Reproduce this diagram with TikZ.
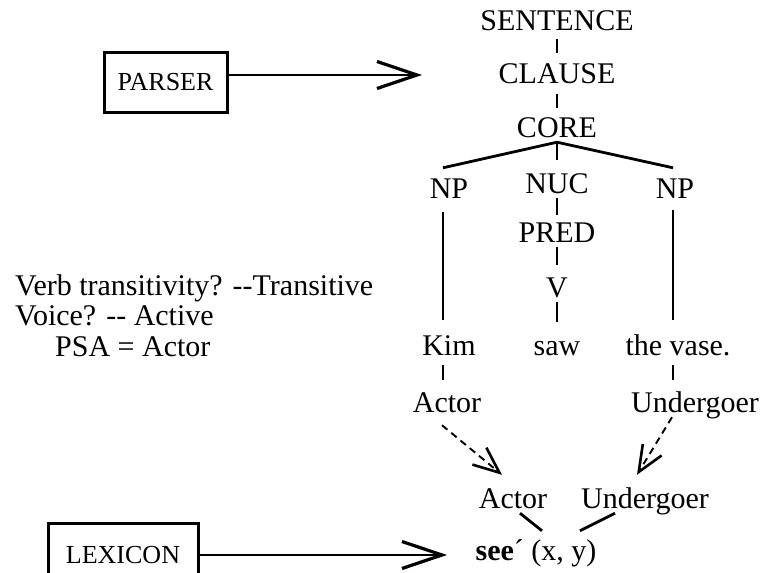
\documentclass[tikz,border=0pt]{standalone}
\usepackage{fontspec}
\setmainfont{Liberation Serif}
\usetikzlibrary{arrows.meta}
\newcommand\treesize{\fontsize{30}{36}\selectfont}
\newcommand\boxsize{\fontsize{26}{31}\selectfont}
\begin{document}
\begin{tikzpicture}[x=1pt,y=-1pt,
  lbl/.style={inner sep=0pt, anchor=base, text height=20pt, text depth=0pt, font=\treesize},
  note/.style={inner sep=0pt, anchor=base west, font=\treesize},
  modbox/.style={draw, line width=3pt, inner sep=0pt, font=\boxsize},
  branch/.style={line width=2.8pt},
  feed/.style={line width=2.6pt, -{Straight Barb[length=40pt,width=27pt,line width=3.2pt]}},
  link/.style={line width=1.9pt, dash pattern=on 7pt off 5pt, -{Straight Barb[length=26pt,width=22pt,line width=2.6pt]}}
]
\useasboundingbox (0,0) rectangle (764,573);
\fill[white] (0,0) rectangle (764,573);
\clip (0,0) rectangle (764,573);

% clause structure
\node[lbl] (sentence) at (557,30) {SENTENCE};
\node[lbl] (clause) at (557,83) {CLAUSE};
\node[lbl] (core) at (557,137) {CORE};
\node[lbl] (nuc) at (557,193) {NUC};
\node[lbl] (pred) at (557,242) {PRED};
\node[lbl] (v) at (557,297) {V};
\node[lbl] (saw) at (557,355) {saw};
\node[lbl] (npa) at (449,198) {NP};
\node[lbl] (kim) at (449,355) {Kim};
\node[lbl] (acta) at (447,412) {Actor};
\node[lbl] (npb) at (675,198) {NP};
\node[lbl] (vase) at (678,355) {the vase.};
\node[lbl] (unda) at (695,412) {Undergoer};
\node[lbl] (actb) at (513,508) {Actor};
\node[lbl] (undb) at (645,508) {Undergoer};
\node[lbl] (see) at (536,560) {\textbf{see}´ (x, y)};

\draw[branch] ([yshift=-9pt]sentence.south) -- ([yshift=10pt]clause.north);
\draw[branch] ([yshift=-11pt]clause.south) -- ([yshift=9pt]core.north);
\coordinate (apex) at ([yshift=-5pt]core.south);
\draw[branch, line join=miter] ([xshift=-6pt,yshift=10pt]npa.north) -- (apex) -- ([xshift=-2pt,yshift=10pt]npb.north);
\draw[branch] (apex) -- ([yshift=13pt]nuc.north);
\draw[branch] ([yshift=-5pt]nuc.south) -- ([yshift=7pt]pred.north);
\draw[branch] ([yshift=-5pt]pred.south) -- ([yshift=12pt]v.north);
\draw[branch] ([yshift=-5pt]v.south) -- ([yshift=13pt]saw.north);
\draw[branch] ([xshift=-6pt,yshift=-14pt]npa.south) -- ([xshift=-6pt,yshift=15pt]kim.north);
\draw[branch] ([xshift=-2pt,yshift=-12pt]npb.south) -- ([xshift=-5pt,yshift=15pt]vase.north);
\draw[branch] ([xshift=-6pt,yshift=-10pt]kim.south) -- ([xshift=-4pt,yshift=12pt]acta.north);
\draw[branch] ([xshift=-5pt,yshift=-10pt]vase.south) -- ([xshift=-22pt,yshift=12pt]unda.north);

% macroroles linked to the logical structure
\draw[link] ([xshift=-5pt,yshift=-13pt]acta.south) -- ([xshift=-11pt,yshift=13pt]actb.north);
\draw[link] ([xshift=-23pt,yshift=-5pt]unda.south) -- ([xshift=-8pt,yshift=13pt]undb.north);
\draw[branch] ([xshift=7pt,yshift=-5pt]actb.south) -- ([xshift=6pt,yshift=9pt]see.north);
\draw[branch] ([xshift=-30pt,yshift=-5pt]undb.south) -- ([xshift=44pt,yshift=9pt]see.north);

% linking questions
\node[note] (q1) at (15,295) {Verb transitivity? \mbox{-}\mbox{-}Transitive};
\node[note] (q2) at (15,325) {Voice? \mbox{-}\mbox{-} Active};
\node[note] (q3) at (55,356) {PSA = Actor};

% modules
\node[modbox, minimum width=123pt, minimum height=60pt] (parser) at (165.5,82) {PARSER};
\node[modbox, minimum width=150pt, minimum height=64pt] (lexicon) at (123,555) {LEXICON};
\coordinate (ptarget) at (422,75);
\coordinate (ltarget) at (447,555);
\draw[feed] (parser.east |- ptarget) -- (ptarget);
\draw[feed] (lexicon.east |- ltarget) -- (ltarget);
\end{tikzpicture}
\end{document}
